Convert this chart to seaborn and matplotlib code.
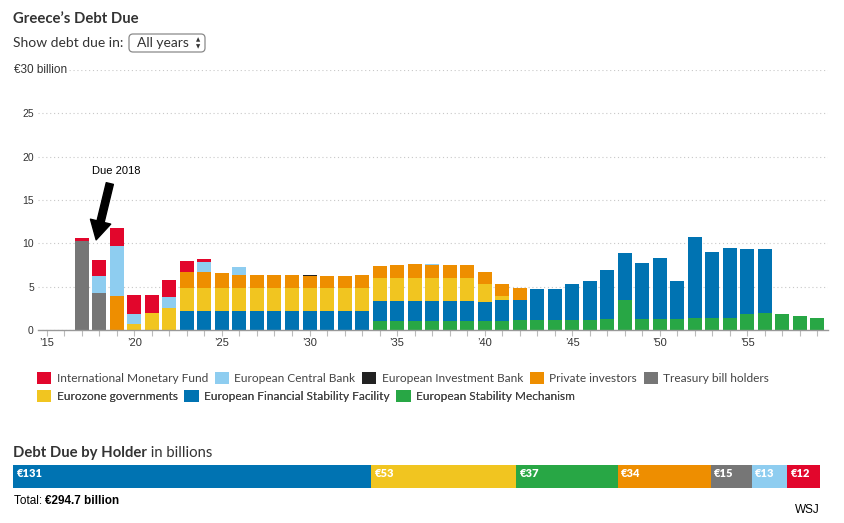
import numpy as np
import pandas as pd
import seaborn as sns
import matplotlib.pyplot as plt
from matplotlib.patches import Patch, FancyBboxPatch
from matplotlib.transforms import IdentityTransform

W, H = 845, 523

# --- data (billions of euros due per year) ---
tbill = {2017: 10.3, 2018: 4.3}
imf = {2017: 0.3, 2018: 1.9, 2019: 2.1, 2020: 2.1, 2021: 2.0, 2022: 2.0,
       2023: 1.3, 2024: 0.27}
ecb = {2018: 1.9, 2019: 5.8, 2020: 1.2, 2022: 1.3, 2024: 1.23, 2025: 0.1,
       2026: 0.93, 2037: 0.08}
eib = {2030: 0.1}
private = {2019: 3.9, 2023: 1.77, 2024: 1.77, 2025: 1.62, 2026: 1.42,
           2027: 1.42, 2028: 1.42, 2029: 1.42, 2030: 1.35, 2031: 1.33,
           2032: 1.33, 2033: 1.42, 2034: 1.35, 2035: 1.46, 2036: 1.58,
           2037: 1.5, 2038: 1.46, 2039: 1.46, 2040: 1.34, 2041: 1.39,
           2042: 1.42}
eurozone = {2020: 0.7, 2021: 2.0, 2022: 2.5, 2023: 2.7, 2024: 2.7,
            2025: 2.7, 2026: 2.7, 2027: 2.7, 2028: 2.7, 2029: 2.7,
            2030: 2.7, 2031: 2.7, 2032: 2.7, 2033: 2.7, 2034: 2.7,
            2035: 2.7, 2036: 2.7, 2037: 2.7, 2038: 2.7, 2039: 2.7,
            2040: 2.04, 2041: 0.5}
efsf = {2023: 2.2, 2024: 2.2, 2025: 2.2, 2026: 2.2, 2027: 2.2, 2028: 2.2,
        2029: 2.2, 2030: 2.2, 2031: 2.2, 2032: 2.2, 2033: 2.2, 2034: 2.3,
        2035: 2.3, 2036: 2.3, 2037: 2.3, 2038: 2.3, 2039: 2.3, 2040: 2.27,
        2041: 2.46, 2042: 2.31, 2043: 3.54, 2044: 3.54, 2045: 4.16,
        2046: 4.55, 2047: 5.71, 2048: 5.48, 2049: 6.52, 2050: 7.02,
        2051: 4.34, 2052: 9.31, 2053: 7.62, 2054: 8.05, 2055: 7.51,
        2056: 7.39}
esm = {2034: 1.0, 2035: 1.0, 2036: 1.0, 2037: 1.0, 2038: 1.0, 2039: 1.0,
       2040: 1.0, 2041: 1.0, 2042: 1.15, 2043: 1.15, 2044: 1.15, 2045: 1.15,
       2046: 1.15, 2047: 1.26, 2048: 3.45, 2049: 1.26, 2050: 1.26,
       2051: 1.26, 2052: 1.38, 2053: 1.38, 2054: 1.38, 2055: 1.8,
       2056: 1.92, 2057: 1.84, 2058: 1.57, 2059: 1.34}

holder_totals = [131, 53, 37, 34, 15, 13, 12]
total_label = "€294.7 billion"

names = {
    "imf": "International Monetary Fund",
    "ecb": "European Central Bank",
    "eib": "European Investment Bank",
    "private": "Private investors",
    "tbill": "Treasury bill holders",
    "eurozone": "Eurozone governments",
    "efsf": "European Financial Stability Facility",
    "esm": "European Stability Mechanism",
}
colors = {
    "imf": "#e2062c",
    "ecb": "#8ecdf0",
    "eib": "#222222",
    "private": "#ee8e00",
    "tbill": "#767676",
    "eurozone": "#f1c520",
    "efsf": "#0073b2",
    "esm": "#28a745",
}
series = {"imf": imf, "ecb": ecb, "eib": eib, "private": private,
          "eurozone": eurozone, "efsf": efsf, "esm": esm, "tbill": tbill}
# first level is drawn on top of the stack
stack_order = ["imf", "ecb", "eib", "private", "eurozone", "efsf", "esm", "tbill"]
bar_order = ["efsf", "eurozone", "esm", "private", "tbill", "ecb", "imf"]

rows = [(year, names[key], val) for key, d in series.items() for year, val in d.items()]
df = pd.DataFrame(rows, columns=["year", "holder", "value"])


def fx(px):
    return px / W


def fy(py):
    return 1 - py / H


sns.set_theme(style="white")
plt.rcParams["font.family"] = ["Liberation Sans", "DejaVu Sans"]
HUM = ["Lato", "DejaVu Sans"]

fig = plt.figure(figsize=(W / 100, H / 100), dpi=100)
ax = fig.add_axes([fx(38), fy(330), fx(828) - fx(38), fy(70) - fy(330)])

sns.histplot(
    data=df, x="year", weights="value", hue="holder",
    hue_order=[names[k] for k in stack_order],
    palette={names[k]: colors[k] for k in stack_order},
    multiple="stack", discrete=True, shrink=0.8, alpha=1,
    linewidth=0, legend=False, ax=ax,
)

ax.set_xlim(2014.5, 2059.6)
ax.set_ylim(0, 30)
ax.set_xlabel("")
ax.set_ylabel("")
ax.set_yticks(range(0, 31, 5))
ax.set_yticklabels([str(v) for v in range(0, 26, 5)] + [""])
ax.yaxis.grid(True, color="#c8c8c8", linestyle=(0, (1, 2.5)), linewidth=0.8)
ax.xaxis.grid(False)
ax.set_axisbelow(True)
ticks = list(range(2015, 2060))
ax.set_xticks(ticks)
ax.set_xticklabels([f"\u2019{t % 100:02d}" if t % 5 == 0 else "" for t in ticks])
ax.tick_params(axis="x", length=4, width=0.8, color="#bbbbbb", labelsize=8,
               labelcolor="#333333", pad=2, bottom=True)
ax.tick_params(axis="y", length=0, labelsize=7.5, labelcolor="#333333", pad=3)
for side in ["top", "right", "left"]:
    ax.spines[side].set_visible(False)
ax.spines["bottom"].set_color("#999999")
ax.spines["bottom"].set_linewidth(1)

fig.text(fx(14), fy(70), "€30 billion", fontsize=8.5, color="#333333",
         va="center", ha="left",
         bbox=dict(fc="white", ec="none", pad=1))

# annotation
ax.text(2018.94, 18.35, "Due 2018", fontsize=8, ha="center", va="center",
        color="black")
ax.annotate("", xy=(2017.82, 10.4), xytext=(2018.6, 16.9),
            arrowprops=dict(arrowstyle="simple,head_length=0.9,head_width=1.0,tail_width=0.35",
                            color="black", mutation_scale=15,
                            shrinkA=0, shrinkB=0))

# headers
fig.text(fx(13), fy(19), "Greece\u2019s Debt Due", fontsize=10.7,
         fontweight="bold", family=HUM, color="#333333", va="center")
fig.text(fx(13), fy(43), "Show debt due in:", fontsize=10, family=HUM,
         color="#333333", va="center")
box = FancyBboxPatch((129, H - 52), 76, 18,
                     boxstyle="round,pad=0,rounding_size=4",
                     fc="white", ec="#8a8a8a", lw=0.9,
                     transform=IdentityTransform())
fig.add_artist(box)
fig.text(fx(137), fy(43), "All years", fontsize=10, family=HUM,
         color="#333333", va="center")
fig.text(fx(198), fy(39.5), "\u25b2", fontsize=4, color="#333333",
         ha="center", va="center", family=["DejaVu Sans"])
fig.text(fx(198), fy(46.5), "\u25bc", fontsize=4, color="#333333",
         ha="center", va="center", family=["DejaVu Sans"])

# legend: two flowing rows
row1 = ["imf", "ecb", "eib", "private", "tbill"]
row2 = ["eurozone", "efsf", "esm"]
for keys, ypx in [(row1, 372), (row2, 390)]:
    handles = [Patch(fc=colors[k], ec="none", label=names[k]) for k in keys]
    leg = ax.legend(handles=handles, loc="upper left",
                    bbox_to_anchor=(fx(37), fy(ypx)),
                    bbox_transform=fig.transFigure, ncol=len(keys),
                    frameon=False, handlelength=1.2, handleheight=1.15,
                    handletextpad=0.45, columnspacing=0.55, borderpad=0,
                    borderaxespad=0, prop={"family": HUM, "size": 8.6})
    for t in leg.get_texts():
        t.set_color("#444444")
    ax.add_artist(leg)

# holder summary bar
renderer = fig.canvas.get_renderer()
t1 = fig.text(fx(13), fy(457), "Debt Due by Holder", fontsize=10.7,
              fontweight="bold", family=HUM, color="#333333", va="baseline")
ext = t1.get_window_extent(renderer)
fig.text(ext.x1 / W, fy(457), " in billions", fontsize=10.7, family=HUM,
         color="#333333", va="baseline")

ax2 = fig.add_axes([fx(13), fy(488), fx(820) - fx(13), fy(465) - fy(488)])
lefts = np.concatenate([[0], np.cumsum(holder_totals)[:-1]])
ax2.barh([0] * len(bar_order), holder_totals, left=lefts, height=1,
         color=[colors[k] for k in bar_order], linewidth=0)
for left, val in zip(lefts, holder_totals):
    ax2.text(left + 1.3, 0.12, f"€{val}", color="white", fontsize=8,
             fontweight="heavy", family=HUM, va="center", ha="left")
ax2.set_xlim(0, sum(holder_totals))
ax2.set_ylim(-0.5, 0.5)
ax2.axis("off")

t2 = fig.text(fx(14), fy(504), "Total: ", fontsize=8.5, color="black",
              va="baseline")
ext = t2.get_window_extent(renderer)
fig.text(ext.x1 / W, fy(504), total_label, fontsize=8.5, fontweight="bold",
         color="black", va="baseline")
fig.text(fx(820), fy(510), "WSJ", fontsize=8.5, color="black",
         ha="right", va="center")

fig.savefig("out.png", dpi=100)
